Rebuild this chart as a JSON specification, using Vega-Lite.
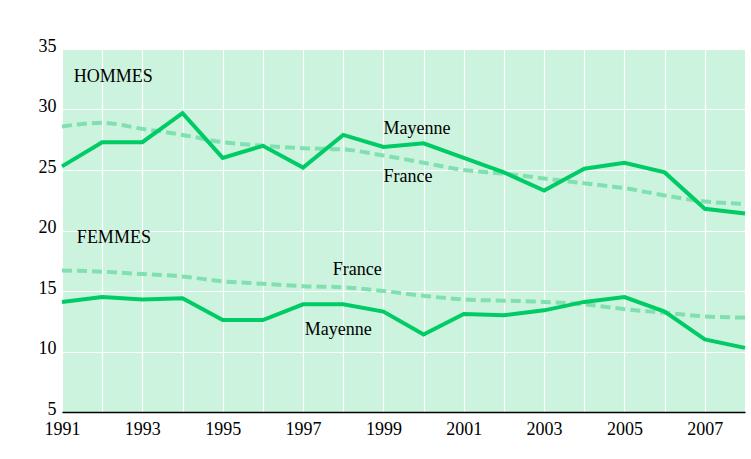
{
  "$schema": "https://vega.github.io/schema/vega-lite/v6.json",
  "width": 683,
  "height": 363,
  "autosize": {"type": "none"},
  "padding": {"left": 62, "top": 49, "right": 6, "bottom": 47},
  "background": "#ffffff",
  "config": {
    "view": {"fill": "#ccf3de", "stroke": null},
    "font": "'Liberation Serif', 'Times New Roman', 'DejaVu Serif', serif",
    "axis": {"labelFont": "'Liberation Serif', 'Times New Roman', 'DejaVu Serif', serif", "labelFontSize": 18, "labelColor": "#000000", "title": null}
  },
  "datasets": {
    "series": [
      {"year": 1991, "sexe": "Hommes", "zone": "Mayenne", "taux": 25.3},
      {"year": 1992, "sexe": "Hommes", "zone": "Mayenne", "taux": 27.3},
      {"year": 1993, "sexe": "Hommes", "zone": "Mayenne", "taux": 27.3},
      {"year": 1994, "sexe": "Hommes", "zone": "Mayenne", "taux": 29.7},
      {"year": 1995, "sexe": "Hommes", "zone": "Mayenne", "taux": 26.0},
      {"year": 1996, "sexe": "Hommes", "zone": "Mayenne", "taux": 27.0},
      {"year": 1997, "sexe": "Hommes", "zone": "Mayenne", "taux": 25.2},
      {"year": 1998, "sexe": "Hommes", "zone": "Mayenne", "taux": 27.9},
      {"year": 1999, "sexe": "Hommes", "zone": "Mayenne", "taux": 26.9},
      {"year": 2000, "sexe": "Hommes", "zone": "Mayenne", "taux": 27.2},
      {"year": 2001, "sexe": "Hommes", "zone": "Mayenne", "taux": 26.0},
      {"year": 2002, "sexe": "Hommes", "zone": "Mayenne", "taux": 24.8},
      {"year": 2003, "sexe": "Hommes", "zone": "Mayenne", "taux": 23.3},
      {"year": 2004, "sexe": "Hommes", "zone": "Mayenne", "taux": 25.1},
      {"year": 2005, "sexe": "Hommes", "zone": "Mayenne", "taux": 25.6},
      {"year": 2006, "sexe": "Hommes", "zone": "Mayenne", "taux": 24.8},
      {"year": 2007, "sexe": "Hommes", "zone": "Mayenne", "taux": 21.8},
      {"year": 2008, "sexe": "Hommes", "zone": "Mayenne", "taux": 21.4},
      {"year": 1991, "sexe": "Hommes", "zone": "France", "taux": 28.6},
      {"year": 1992, "sexe": "Hommes", "zone": "France", "taux": 28.9},
      {"year": 1993, "sexe": "Hommes", "zone": "France", "taux": 28.4},
      {"year": 1994, "sexe": "Hommes", "zone": "France", "taux": 27.9},
      {"year": 1995, "sexe": "Hommes", "zone": "France", "taux": 27.3},
      {"year": 1996, "sexe": "Hommes", "zone": "France", "taux": 27.0},
      {"year": 1997, "sexe": "Hommes", "zone": "France", "taux": 26.8},
      {"year": 1998, "sexe": "Hommes", "zone": "France", "taux": 26.7},
      {"year": 1999, "sexe": "Hommes", "zone": "France", "taux": 26.2},
      {"year": 2000, "sexe": "Hommes", "zone": "France", "taux": 25.6},
      {"year": 2001, "sexe": "Hommes", "zone": "France", "taux": 25.0},
      {"year": 2002, "sexe": "Hommes", "zone": "France", "taux": 24.7},
      {"year": 2003, "sexe": "Hommes", "zone": "France", "taux": 24.3},
      {"year": 2004, "sexe": "Hommes", "zone": "France", "taux": 23.9},
      {"year": 2005, "sexe": "Hommes", "zone": "France", "taux": 23.5},
      {"year": 2006, "sexe": "Hommes", "zone": "France", "taux": 22.9},
      {"year": 2007, "sexe": "Hommes", "zone": "France", "taux": 22.4},
      {"year": 2008, "sexe": "Hommes", "zone": "France", "taux": 22.2},
      {"year": 1991, "sexe": "Femmes", "zone": "Mayenne", "taux": 14.1},
      {"year": 1992, "sexe": "Femmes", "zone": "Mayenne", "taux": 14.5},
      {"year": 1993, "sexe": "Femmes", "zone": "Mayenne", "taux": 14.3},
      {"year": 1994, "sexe": "Femmes", "zone": "Mayenne", "taux": 14.4},
      {"year": 1995, "sexe": "Femmes", "zone": "Mayenne", "taux": 12.6},
      {"year": 1996, "sexe": "Femmes", "zone": "Mayenne", "taux": 12.6},
      {"year": 1997, "sexe": "Femmes", "zone": "Mayenne", "taux": 13.9},
      {"year": 1998, "sexe": "Femmes", "zone": "Mayenne", "taux": 13.9},
      {"year": 1999, "sexe": "Femmes", "zone": "Mayenne", "taux": 13.3},
      {"year": 2000, "sexe": "Femmes", "zone": "Mayenne", "taux": 11.4},
      {"year": 2001, "sexe": "Femmes", "zone": "Mayenne", "taux": 13.1},
      {"year": 2002, "sexe": "Femmes", "zone": "Mayenne", "taux": 13.0},
      {"year": 2003, "sexe": "Femmes", "zone": "Mayenne", "taux": 13.4},
      {"year": 2004, "sexe": "Femmes", "zone": "Mayenne", "taux": 14.1},
      {"year": 2005, "sexe": "Femmes", "zone": "Mayenne", "taux": 14.5},
      {"year": 2006, "sexe": "Femmes", "zone": "Mayenne", "taux": 13.3},
      {"year": 2007, "sexe": "Femmes", "zone": "Mayenne", "taux": 11.0},
      {"year": 2008, "sexe": "Femmes", "zone": "Mayenne", "taux": 10.3},
      {"year": 1991, "sexe": "Femmes", "zone": "France", "taux": 16.7},
      {"year": 1992, "sexe": "Femmes", "zone": "France", "taux": 16.6},
      {"year": 1993, "sexe": "Femmes", "zone": "France", "taux": 16.4},
      {"year": 1994, "sexe": "Femmes", "zone": "France", "taux": 16.2},
      {"year": 1995, "sexe": "Femmes", "zone": "France", "taux": 15.8},
      {"year": 1996, "sexe": "Femmes", "zone": "France", "taux": 15.6},
      {"year": 1997, "sexe": "Femmes", "zone": "France", "taux": 15.4},
      {"year": 1998, "sexe": "Femmes", "zone": "France", "taux": 15.3},
      {"year": 1999, "sexe": "Femmes", "zone": "France", "taux": 15.0},
      {"year": 2000, "sexe": "Femmes", "zone": "France", "taux": 14.6},
      {"year": 2001, "sexe": "Femmes", "zone": "France", "taux": 14.3},
      {"year": 2002, "sexe": "Femmes", "zone": "France", "taux": 14.2},
      {"year": 2003, "sexe": "Femmes", "zone": "France", "taux": 14.1},
      {"year": 2004, "sexe": "Femmes", "zone": "France", "taux": 13.9},
      {"year": 2005, "sexe": "Femmes", "zone": "France", "taux": 13.5},
      {"year": 2006, "sexe": "Femmes", "zone": "France", "taux": 13.2},
      {"year": 2007, "sexe": "Femmes", "zone": "France", "taux": 12.9},
      {"year": 2008, "sexe": "Femmes", "zone": "France", "taux": 12.8}
    ],
    "labels": [
      {"label": "HOMMES", "year": 1991.29, "taux": 32.3},
      {"label": "FEMMES", "year": 1991.37, "taux": 19.0},
      {"label": "Mayenne", "year": 1999.0, "taux": 28.0},
      {"label": "France", "year": 1999.0, "taux": 24.0},
      {"label": "France", "year": 1997.74, "taux": 16.3},
      {"label": "Mayenne", "year": 1997.04, "taux": 11.4}
    ]
  },
  "encoding": {
    "x": {
      "field": "year", "type": "quantitative",
      "scale": {"domain": [1991, 2008], "nice": false, "zero": false},
      "axis": {
        "values": [1991, 1992, 1993, 1994, 1995, 1996, 1997, 1998, 1999, 2000, 2001, 2002, 2003, 2004, 2005, 2006, 2007, 2008],
        "labelExpr": "datum.value % 2 == 1 ? format(datum.value, 'd') : ''",
        "grid": true, "gridColor": "#ffffff", "gridWidth": 1.2, "gridOpacity": 1,
        "ticks": false, "tickSize": 0,
        "domain": true, "domainColor": "#000000", "domainWidth": 1.6,
        "labelPadding": 22, "labelBaseline": "alphabetic", "labelAlign": "center",
        "labelOverlap": false, "labelFlush": false
      }
    },
    "y": {
      "field": "taux", "type": "quantitative",
      "scale": {"domain": [5, 35], "nice": false, "zero": false},
      "axis": {
        "values": [5, 10, 15, 20, 25, 30, 35],
        "grid": true, "gridColor": "#ffffff", "gridWidth": 1.2, "gridOpacity": 1,
        "ticks": false, "tickSize": 0, "domain": false,
        "labelPadding": 6, "labelBaseline": "middle", "labelOffset": -3,
        "labelOverlap": false, "labelFlush": false
      }
    }
  },
  "layer": [
    {
      "data": {"name": "series"},
      "transform": [{"filter": "datum.zone == 'France'"}],
      "mark": {"type": "line", "color": "#80e0b0", "strokeWidth": 4, "strokeDash": [10, 5], "interpolate": "monotone"},
      "encoding": {"detail": {"field": "sexe"}}
    },
    {
      "data": {"name": "series"},
      "transform": [{"filter": "datum.zone == 'Mayenne'"}],
      "mark": {"type": "line", "color": "#00cc66", "strokeWidth": 4, "strokeJoin": "miter"},
      "encoding": {"detail": {"field": "sexe"}}
    },
    {
      "data": {"name": "labels"},
      "mark": {"type": "text", "align": "left", "baseline": "alphabetic", "font": "'Liberation Serif', 'Times New Roman', 'DejaVu Serif', serif", "fontSize": 18, "color": "#000000"},
      "encoding": {"text": {"field": "label"}}
    }
  ]
}
